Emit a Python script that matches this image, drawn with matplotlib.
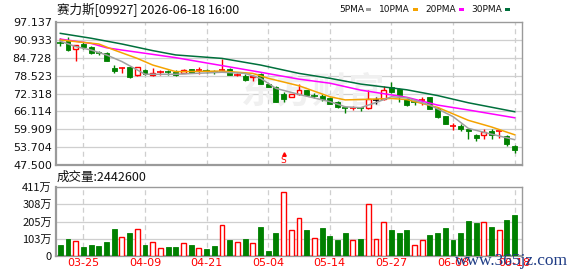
import matplotlib
matplotlib.use("Agg")
import matplotlib.pyplot as plt
from matplotlib.patches import Rectangle

plt.rcParams['font.family'] = ['Noto Sans CJK SC', 'DejaVu Sans']

# daily k-line, 60 sessions
opens = [90.0, 90.8, 87.7, 89.5, 88.4, 86.6, 86.4, 81.3, 81.1, 81.4,
         78.6, 80.4, 78.6, 79.6, 79.85, 79.8, 79.4, 80.7, 80.3, 80.25,
         79.85, 80.3, 80.8, 78.75, 78.5, 78.1, 79.0, 75.6, 74.6, 72.3,
         71.1, 72.0, 73.4, 71.5, 71.4, 70.8, 69.4, 67.45, 67.25, 67.45,
         67.3, 70.15, 70.5, 74.6, 74.0, 70.5, 69.45, 70.05, 71.1, 67.3,
         64.4, 60.85, 61.0, 59.9, 57.8, 57.8, 59.3, 59.1, 57.5, 54.1]
closes = [89.9, 87.5, 89.0, 88.4, 86.5, 86.4, 83.7, 80.2, 81.2, 78.15,
          81.4, 79.2, 79.5, 79.75, 79.75, 78.8, 80.6, 79.4, 80.45, 80.15,
          79.75, 80.45, 78.8, 78.9, 77.1, 78.5, 75.7, 74.7, 69.4, 70.3,
          72.0, 73.7, 71.7, 71.35, 70.3, 68.8, 67.6, 67.35, 67.4, 67.35,
          70.3, 70.25, 73.6, 72.8, 71.7, 68.4, 69.35, 70.2, 67.0, 64.2,
          61.8, 61.0, 59.9, 59.2, 57.0, 58.9, 58.0, 59.2, 54.9, 52.7]
highs = [91.6, 91.9, 89.1, 90.2, 88.8, 87.2, 86.6, 82.2, 81.5, 81.6,
         81.5, 80.9, 81.2, 80.5, 80.5, 80.6, 80.7, 80.8, 81.5, 80.8,
         80.4, 84.4, 81.0, 79.5, 79.2, 78.6, 79.4, 76.0, 74.8, 72.8,
         72.3, 75.6, 73.6, 72.5, 72.2, 71.0, 69.6, 67.6, 68.0, 67.8,
         73.4, 71.0, 74.8, 76.3, 74.2, 70.8, 70.2, 71.1, 71.2, 67.5,
         64.5, 62.1, 61.6, 60.0, 58.3, 60.1, 59.9, 59.3, 58.0, 54.6]
lows = [88.8, 87.1, 83.7, 87.9, 86.0, 85.8, 83.5, 79.5, 79.5, 77.8,
        78.5, 78.6, 78.5, 78.8, 78.8, 78.5, 79.3, 79.3, 79.2, 79.6,
        79.2, 80.2, 78.6, 78.3, 76.6, 76.6, 75.5, 74.5, 69.2, 69.4,
        71.0, 71.8, 71.6, 70.8, 69.7, 68.6, 67.3, 65.6, 66.5, 66.1,
        66.8, 68.8, 70.0, 72.6, 69.4, 67.9, 68.4, 68.4, 66.9, 63.8,
        61.7, 59.8, 59.3, 56.6, 55.7, 56.6, 56.6, 56.9, 54.0, 51.8]
# r = up (hollow red), g = down (green), k = flat
candle_col = ("ggrgggggrg" "rgrrggrgrg" "grgrgrgggg"
              "rrggggggrg" "rkrggggrgg" "grgggrgrgg")

volumes = [64, 99, 91, 52, 64, 58, 81, 159, 115, 135,
           163, 64, 85, 50, 52, 52, 79, 64, 50, 40,
           58, 187, 93, 85, 99, 79, 171, 28, 135, 383,
           153, 228, 153, 109, 165, 117, 93, 135, 93, 99,
           312, 103, 200, 153, 135, 153, 68, 93, 123, 135,
           165, 93, 135, 208, 195, 205, 171, 153, 212, 244]  # 万
vol_col = ("ggrgggggrg" "rgrrggrgrg" "grgrgrgggr"
           "rrgrggggrg" "rrrgggrrgg" "gggggrgrgg")

# moving averages read at sample sessions
ma5_x = [0, 2, 4, 6, 8, 10, 11, 15, 21, 24, 26, 28, 31, 35, 37, 39, 41, 43, 45, 48, 51, 53, 56, 59]
ma5_y = [90.5, 88.6, 87.4, 85.7, 83.4, 80.5, 79.0, 79.0, 79.7, 79.3, 77.6, 74.1, 72.0, 69.5,
         67.7, 67.4, 69.2, 71.2, 70.8, 68.3, 64.3, 60.2, 58.2, 56.3]
ma10_x = [0, 5, 7, 10, 12, 15, 21, 25, 27, 31, 35, 37, 40, 43, 45, 49, 53, 56, 59]
ma10_y = [90.9, 89.5, 87.4, 84.5, 82.2, 79.9, 80.1, 79.3, 77.6, 75.0, 71.2, 70.1, 70.3, 70.6,
          70.2, 67.5, 63.0, 60.7, 58.0]
ma20_x = [0, 4, 6, 8, 12, 15, 21, 26, 31, 35, 39, 45, 49, 53, 59]
ma20_y = [91.2, 89.7, 88.2, 87.4, 85.9, 84.75, 82.0, 79.7, 77.3, 75.9, 73.5, 71.0, 68.3, 66.6, 63.9]
ma30_x = [0, 4, 8, 12, 15, 21, 26, 31, 35, 39, 45, 49, 53, 59]
ma30_y = [93.2, 91.5, 89.5, 87.2, 85.7, 84.5, 82.2, 79.3, 77.6, 75.6, 73.6, 71.6, 69.1, 66.0]

tick_pos = [3, 11, 19, 27, 35, 43, 51, 59]
tick_lab = ["03-25", "04-09", "04-21", "05-04", "05-14", "05-27", "06-08", "06-18"]
price_ticks = ["97.137", "90.933", "84.728", "78.523", "72.318", "66.114", "59.909", "53.704", "47.500"]
vol_ticks = ["0", "103万", "205万", "308万", "411万"]

RED = "#ff0000"
GREEN = "#008000"
GRID = "#cfcfcf"
BORDER = "#9a9a9a"
W, H = 578, 276

fig = plt.figure(figsize=(W / 100, H / 100), dpi=100)
ax = fig.add_axes([56 / W, 1 - 165 / H, 466 / W, 143 / H])
axv = fig.add_axes([56 / W, 1 - 256 / H, 466 / W, 69 / H])

ymin, ymax = 47.5, 97.137
xlim = (-0.56, 59.96)


def frame(a):
    a.set_xlim(*xlim)
    a.set_xticks([])
    for s in a.spines.values():
        s.set_color(BORDER)
        s.set_linewidth(1.0)
    a.spines['bottom'].set_linewidth(1.6)
    a.spines['left'].set_linewidth(1.6)
    a.tick_params(axis='y', length=0, pad=3, labelsize=8, labelcolor="#111111")
    for p in tick_pos:
        a.axvline(p, color=GRID, lw=0.9, ls=(0, (4, 3)), zorder=0)


# price panel
frame(ax)
ax.set_ylim(ymin, ymax)
step = (ymax - ymin) / 8
pt = [ymax - k * step for k in range(9)]
ax.set_yticks(pt)
ax.set_yticklabels(price_ticks, family='DejaVu Sans')
for v in pt[1:-1]:
    ax.axhline(v, color=GRID, lw=0.9, zorder=0)

# faint site watermark behind the candles
ax.text(23.5, 72.8, "东方财富", fontsize=26, color="#f0f0f0", fontweight='bold',
        ha='left', va='center', zorder=0.5)

bw = 0.64
for i in range(len(opens)):
    o, c, h, l = opens[i], closes[i], highs[i], lows[i]
    col = {'r': RED, 'g': GREEN, 'k': '#000000'}[candle_col[i]]
    ax.vlines(i, l, h, color=col, lw=1.0, zorder=3)
    if abs(c - o) < 0.25:
        ax.hlines((o + c) / 2, i - 0.42, i + 0.42, color=col, lw=1.2, zorder=4)
    elif candle_col[i] == 'r':
        ax.add_patch(Rectangle((i - bw / 2, min(o, c)), bw, abs(c - o), facecolor='white',
                               edgecolor=RED, lw=1.0, zorder=4))
    else:
        ax.add_patch(Rectangle((i - bw / 2, min(o, c)), bw, abs(c - o), facecolor=col,
                               edgecolor=col, lw=0.6, zorder=4))

ax.plot(ma30_x, ma30_y, color="#00703c", lw=1.1, zorder=5)
ax.plot(ma20_x, ma20_y, color="#ff00ff", lw=1.1, zorder=5)
ax.plot(ma10_x, ma10_y, color="#f5a300", lw=1.1, zorder=5)
ax.plot(ma5_x, ma5_y, color="#a0a0a0", lw=1.1, zorder=5)

ax.plot([29], [51.4], marker='^', ms=2.5, color=RED, zorder=6)
ax.text(29, 48.9, "S", color=RED, fontsize=6.5, ha='center', va='center',
        family='DejaVu Sans', zorder=6)

# volume panel
frame(axv)
axv.set_ylim(0, 411)
vt = [411 * k / 4 for k in range(5)]
axv.set_yticks(vt)
axv.set_yticklabels(vol_ticks)
for v in vt[1:-1]:
    axv.axhline(v, color=GRID, lw=0.9, zorder=0)
for i, v in enumerate(volumes):
    if vol_col[i] == 'r':
        axv.add_patch(Rectangle((i - bw / 2, 0), bw, v, facecolor='white', edgecolor=RED,
                                lw=1.0, zorder=3))
    else:
        axv.add_patch(Rectangle((i - bw / 2, 0), bw, v, facecolor=GREEN, edgecolor=GREEN,
                                lw=0.6, zorder=3))
for p, lab in zip(tick_pos, tick_lab):
    axv.text(p, -14, lab, color=RED, fontsize=8, ha='center', va='top', family='DejaVu Sans')

# header texts
fig.text(57 / W, 1 - 10 / H, "赛力斯[09927] 2026-06-18 16:00", fontsize=9, va='center',
         ha='left', color="#111111")
fig.text(57 / W, 1 - 177 / H, "成交量:2442600", fontsize=9, va='center', ha='left',
         color="#111111")

legend = [("5PMA", 339, 366, "#a0a0a0"), ("10PMA", 379, 413, "#f5a300"),
          ("20PMA", 425, 459, "#ff00ff"), ("30PMA", 471, 505, "#00703c")]
for lab, xt, xd, col in legend:
    fig.text(xt / W, 1 - 9.5 / H, lab, fontsize=6.5, va='center', ha='left', family='DejaVu Sans',
             color="#111111")
    fig.add_artist(Rectangle((xd / W, 1 - 11 / H), 5 / W, 2.5 / H, transform=fig.transFigure,
                             facecolor=col, edgecolor='none'))

fig.text(455 / W, 1 - 261 / H, "www.365jz.com", fontsize=12.5, color="#1f3c85",
         family='Liberation Serif', va='center', ha='left')

fig.savefig("out.png", dpi=100)
